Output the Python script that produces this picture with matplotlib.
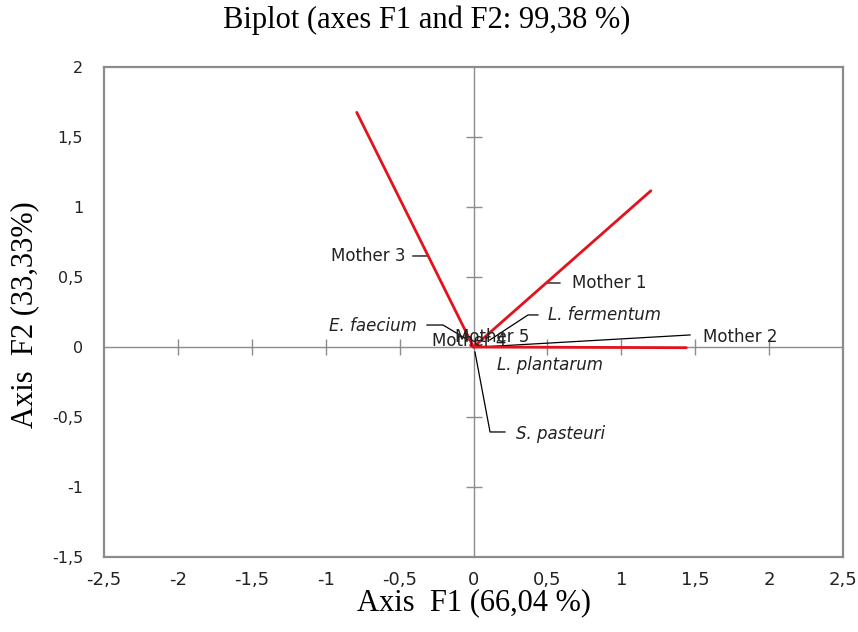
import matplotlib
matplotlib.use("Agg")
import matplotlib.pyplot as plt
import numpy as np
from matplotlib.ticker import FuncFormatter

# ---- data ----
variables = ["Mother 1", "Mother 2", "Mother 3", "Mother 4", "Mother 5"]
var_f1 = [1.20, 1.44, -0.79, -0.02, 0.03]
var_f2 = [1.116, -0.005, 1.676, 0.012, 0.02]

observations = ["E. faecium", "L. fermentum", "L. plantarum", "S. pasteuri"]
obs_f1 = [-0.037, 0.11, 0.05, 0.01]
obs_f2 = [0.05, 0.05, -0.01, -0.036]

x_ticks = [-2.5, -2, -1.5, -1, -0.5, 0, 0.5, 1, 1.5, 2, 2.5]
y_ticks = [-1.5, -1, -0.5, 0, 0.5, 1, 1.5, 2]

title = "Biplot (axes F1 and F2: 99,38 %)"
xlabel = "Axis  F1 (66,04 %)"
ylabel = "Axis  F2 (33,33%)"

# ---- layout of labels (positions only) ----
var_layout = {
    "Mother 1": dict(t=0.41, text=(0.665, 0.457), ha="left", path=[(0.585, 0.457)]),
    "Mother 2": dict(t=0.03, text=(1.553, 0.071), ha="left", path=[(1.465, 0.086)]),
    "Mother 3": dict(t=0.388, text=(-0.463, 0.65), ha="right", path=[(-0.41, 0.65)]),
    "Mother 4": dict(t=None, text=(-0.28, 0.043), ha="left", path=[]),
    "Mother 5": dict(t=None, text=(-0.125, 0.074), ha="left", path=[]),
}
obs_layout = {
    "E. faecium": dict(text=(-0.382, 0.152), ha="right", path=[(-0.206, 0.157), (-0.315, 0.157)]),
    "L. fermentum": dict(text=(0.504, 0.229), ha="left", path=[(0.369, 0.229), (0.436, 0.229)]),
    "L. plantarum": dict(text=(0.159, -0.129), ha="left", path=[]),
    "S. pasteuri": dict(text=(0.288, -0.62), ha="left", path=[(0.112, -0.607), (0.213, -0.607)]),
}

fig = plt.figure(figsize=(8.58, 6.32), dpi=100)
fig.patch.set_facecolor("white")
pos = [104 / 858, 1 - 557 / 632, (843 - 104) / 858, (557 - 67) / 632]

grey = "#8c8c8c"
fmt = FuncFormatter(lambda v, p: ("%g" % v).replace(".", ","))

# frame axes with tick labels
ax = fig.add_axes(pos)
ax.set_xlim(x_ticks[0], x_ticks[-1])
ax.set_ylim(y_ticks[0], y_ticks[-1])
ax.set_xticks(x_ticks)
ax.set_yticks(y_ticks)
ax.xaxis.set_major_formatter(fmt)
ax.yaxis.set_major_formatter(fmt)
ax.tick_params(axis="x", length=0, pad=10)
ax.tick_params(axis="y", length=0, pad=15)
for s in ax.spines.values():
    s.set_color(grey)
    s.set_linewidth(1.6)
for lab in ax.get_xticklabels():
    lab.set_fontfamily("Liberation Sans Narrow")
    lab.set_fontsize(13)
    lab.set_color("#222222")
for lab in ax.get_yticklabels():
    lab.set_fontfamily("DejaVu Sans")
    lab.set_fontsize(11.5)
    lab.set_color("#222222")

# overlay axes with centred axis lines (independent tick locators)
ax2 = fig.add_axes(pos)
ax2.set_xlim(x_ticks[0], x_ticks[-1])
ax2.set_ylim(y_ticks[0], y_ticks[-1])
ax2.patch.set_visible(False)
ax2.spines["top"].set_visible(False)
ax2.spines["right"].set_visible(False)
ax2.spines["left"].set_position(("data", 0))
ax2.spines["bottom"].set_position(("data", 0))
for s in ("left", "bottom"):
    ax2.spines[s].set_color(grey)
    ax2.spines[s].set_linewidth(1.0)
ax2.tick_params(direction="inout", length=12, width=1.0, color=grey,
                labelleft=False, labelbottom=False)
ax2.set_xticks([v for v in x_ticks if v != 0 and abs(v) != 2.5])
ax2.set_yticks([v for v in y_ticks if v != 0 and v not in (y_ticks[0], y_ticks[-1])])

red = "#e3121c"
lab_font = dict(fontfamily="DejaVu Sans", fontsize=12, color="#222222", va="center")

# variable vectors
for name, x, y in zip(variables, var_f1, var_f2):
    ax2.plot([0, x], [0, y], color=red, lw=2.0, solid_capstyle="round", zorder=4)
    lay = var_layout[name]
    if lay["t"] is not None and lay["path"]:
        px = [lay["t"] * x] + [p[0] for p in lay["path"]]
        py = [lay["t"] * y] + [p[1] for p in lay["path"]]
        ax2.plot(px, py, color="black", lw=0.9, zorder=3)
    ax2.text(lay["text"][0], lay["text"][1], name, ha=lay["ha"], zorder=5, **lab_font)

# observations
for name, x, y in zip(observations, obs_f1, obs_f2):
    lay = obs_layout[name]
    if lay["path"]:
        px = [x] + [p[0] for p in lay["path"]]
        py = [y] + [p[1] for p in lay["path"]]
        ax2.plot(px, py, color="black", lw=0.9, zorder=3)
    ax2.text(lay["text"][0], lay["text"][1], name, ha=lay["ha"], style="italic",
             zorder=5, **lab_font)

# titles
fig.text(427 / 858, 1 - 20 / 632, title, ha="center", va="center",
         fontfamily="Liberation Serif", fontsize=22)
fig.text(473.5 / 858, 1 - 603 / 632, xlabel, ha="center", va="center",
         fontfamily="Liberation Serif", fontsize=22)
fig.text(25 / 858, 1 - 315 / 632, ylabel, ha="center", va="center", rotation=90,
         fontfamily="Liberation Serif", fontsize=22)

fig.savefig("out.png", dpi=100, facecolor="white")
